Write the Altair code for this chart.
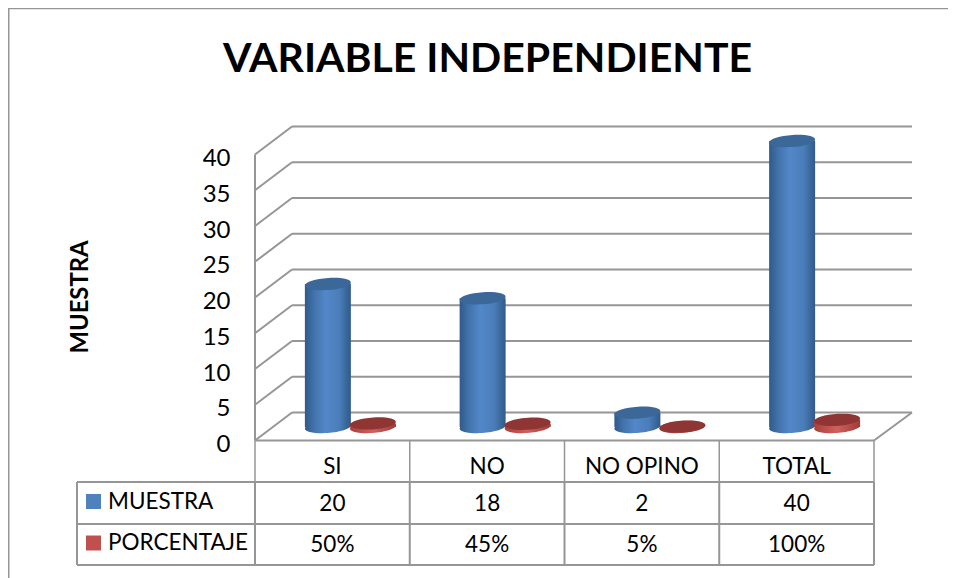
import altair as alt
import pandas as pd

TITLE = "VARIABLE INDEPENDIENTE"
categories = ["SI", "NO", "NO OPINO", "TOTAL"]
muestra = [20, 18, 2, 40]
porcentaje = [0.50, 0.45, 0.05, 1.00]
porcentaje_labels = ["50%", "45%", "5%", "100%"]
ticks = [0, 5, 10, 15, 20, 25, 30, 35, 40]
series = ["MUESTRA", "PORCENTAJE"]
series_colors = ["#4f81bd", "#c0504d"]

FONT = "Lato"
GRID = "#969696"
DEPTH = 3.92       # depth of the 3D box, in axis units
Y_MAX = 43.92
W, H = 619, 314
ELLIPSE = "M-1,0.06 A1,0.26 -4 1,1 1,-0.06 A1,0.26 -4 1,1 -1,0.06 Z"


def grad(*stops):
    return {"gradient": "linear", "x1": 0, "x2": 1, "y1": 0, "y2": 0,
            "stops": [{"offset": o, "color": c} for o, c in stops]}


BLUE = grad((0, "#30598a"), (0.2, "#4273ab"), (0.45, "#5287c9"), (0.75, "#4a7db9"), (1, "#305a89"))
RED = grad((0, "#a8403d"), (0.5, "#d0605c"), (1, "#a03b39"))

df = pd.DataFrame({"cat": categories, "m": muestra, "p": porcentaje,
                   "pl": porcentaje_labels, "base": [0] * 4,
                   "ms": [str(v) for v in muestra]})
gdf = pd.DataFrame({"v": ticks, "back": [t + DEPTH for t in ticks]})
front = pd.DataFrame({"v": [0], "back": [DEPTH]})
base = alt.Chart(df)

yscale = alt.Scale(domain=[0, Y_MAX], nice=False, zero=False)
xscale = alt.Scale(domain=categories, paddingInner=0, paddingOuter=0)
yaxis = alt.Axis(values=ticks, domain=False, ticks=False, grid=False,
                 labelFont=FONT, labelFontSize=24, labelColor="black",
                 labelPadding=25, labelOffset=4, titleFont=FONT, titleFontSize=23.8,
                 titleFontWeight="bold", titleColor="black", titleAngle=270,
                 titleX=-163, titleY=170, titleAlign="center")
xaxis = alt.Axis(labelAngle=0, domain=False, ticks=False, labelFont=FONT,
                 labelFontSize=22.5, labelColor="black", labelPadding=15)


def Y(field):
    return alt.Y(field, type="quantitative", scale=yscale, axis=yaxis, title="MUESTRA")


def X(bp=0.5):
    return alt.X("cat:N", scale=xscale, sort=categories, axis=xaxis, title=None, bandPosition=bp)


line = dict(color=GRID, strokeWidth=2)

wall = alt.Chart(gdf).mark_rule(**line).encode(
    x=alt.value(37), x2=alt.value(657), y=Y("back"))
side = alt.Chart(gdf).mark_rule(**line).encode(
    x=alt.value(0), x2=alt.value(37), y=Y("v"), y2="back:Q")
floor_front = alt.Chart(front).mark_rule(**line).encode(
    x=alt.value(0), x2=alt.value(W), y=Y("v"))
floor_right = alt.Chart(front).mark_rule(**line).encode(
    x=alt.value(W), x2=alt.value(657), y=Y("v"), y2="back:Q")
yaxis_line = alt.Chart(front).mark_rule(**line).encode(
    x=alt.value(0), y=alt.value(H - 286), y2=alt.value(H))


def cylinder(field, body, top, dx):
    off = dict(xOffset=dx, yOffset=-13.5)
    pt = dict(shape=ELLIPSE, size=2116, filled=True, strokeWidth=0, opacity=1)
    return [
        base.mark_point(fill=body, **pt, **off).encode(x=X(), y=Y("base")),
        base.mark_bar(size=46, fill=body, yOffset=-13.5, y2Offset=-13.5, xOffset=dx, x2Offset=dx).encode(
            x=X(), y=Y(field), y2="base:Q"),
        base.mark_point(fill=top, **pt, **off).encode(x=X(), y=Y(field)),
    ]


# table
row_y = [355.5, 397.5, 438.5]
table_h = [alt.Chart(front).mark_rule(**line).encode(
    x=alt.value(-178), x2=alt.value(W), y=alt.value(ry)) for ry in row_y]
cols_top = base.mark_rule(color=GRID, strokeWidth=1.5).encode(
    x=X(0), y=alt.value(H), y2=alt.value(row_y[0]))
cols_bottom = base.mark_rule(color=GRID, strokeWidth=2).encode(
    x=X(0), y=alt.value(row_y[0]), y2=alt.value(row_y[2]))
last = alt.Chart(df.tail(1))
col_end_top = last.mark_rule(color=GRID, strokeWidth=1.5).encode(
    x=X(1), y=alt.value(H), y2=alt.value(row_y[0]))
col_end_bottom = last.mark_rule(color=GRID, strokeWidth=2).encode(
    x=X(1), y=alt.value(row_y[0]), y2=alt.value(row_y[2]))
col_left = alt.Chart(front).mark_rule(**line).encode(
    x=alt.value(-178), y=alt.value(row_y[0]), y2=alt.value(row_y[2]))

txt = dict(font=FONT, fontSize=22.5, color="black", baseline="middle")
cell_m = base.mark_text(**txt).encode(x=X(), y=alt.value(377), text="ms:N")
cell_p = base.mark_text(**txt).encode(x=X(), y=alt.value(418.5), text="pl:N")

leg = pd.DataFrame({"s": series, "c": series_colors})
legend = []
for i, ly in enumerate([375, 416.5]):
    row = alt.Chart(leg.iloc[[i]])
    legend.append(row.mark_text(align="left", **txt).encode(
        x=alt.value(-147), y=alt.value(ly), text="s:N"))
    legend.append(row.mark_square(size=225, opacity=1).encode(
        x=alt.value(-161.5), y=alt.value(ly), color=alt.Color("c:N", scale=None)))

# outer frame of the chart area
frame_top = alt.Chart(front).mark_rule(color=GRID, strokeWidth=1.5).encode(
    x=alt.value(-247), x2=alt.value(700), y=alt.value(-118))
frame_left = alt.Chart(front).mark_rule(color=GRID, strokeWidth=2).encode(
    x=alt.value(-246.5), y=alt.value(-118.5), y2=alt.value(460))

layers = [frame_top, frame_left, wall, side, floor_right, yaxis_line, floor_front]
layers += table_h + [cols_top, cols_bottom, col_end_top, col_end_bottom, col_left]
layers += cylinder("m", BLUE, "#3b6799", -4.5)
layers += cylinder("p", RED, "#8f3634", 40.5)
layers += [cell_m, cell_p] + legend

chart = alt.layer(*layers).properties(
    width=W, height=H,
    title=alt.TitleParams(TITLE, font=FONT, fontSize=41, fontWeight="bold", color="black",
                          anchor="middle", frame="group", dx=-77, offset=-74),
    autosize=alt.AutoSizeParams(type="none"),
    padding={"left": 247, "top": 118.5, "right": 74, "bottom": 137.5},
).configure_view(stroke=None).configure_axis(grid=False)

chart.save("out.html", embed_options={"renderer": "svg", "actions": False})
